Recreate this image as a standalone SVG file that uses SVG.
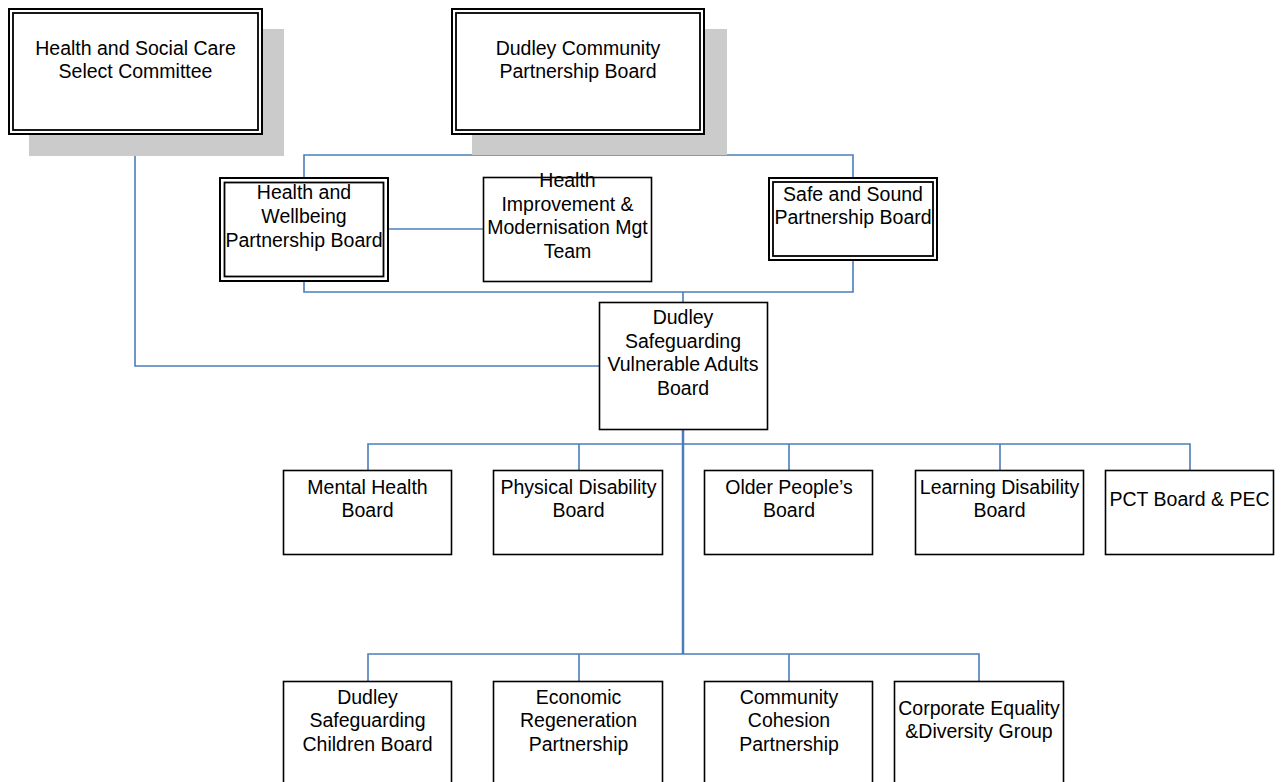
<svg xmlns="http://www.w3.org/2000/svg" width="1286" height="782" viewBox="0 0 1286 782">
<style>
.bg{fill:#ffffff}
.shadow{fill:#cbcbcb}
.box{fill:#ffffff;stroke:#000000;stroke-width:1.6}
.outer{fill:#ffffff;stroke:#000000;stroke-width:2}
.inner{fill:none;stroke:#000000;stroke-width:1.8}
.conn{fill:none;stroke:#4a7ebb;stroke-width:1.6}
.trunk{fill:none;stroke:#4a7ebb;stroke-width:2.5}
text{font-family:"Liberation Sans",Arial,sans-serif;font-size:19.5px;fill:#000000;text-anchor:middle}
</style>
<rect class="bg" x="0" y="0" width="1286" height="782"/>

<g id="connectors">
  <path class="conn" d="M135 156 V366 H599"/>
  <path class="conn" d="M578 134 V155"/>
  <path class="conn" d="M304 178 V155 H853 V178"/>
  <path class="conn" d="M388 229 H483"/>
  <path class="conn" d="M304 281 V292 H853 V260"/>
  <path class="conn" d="M683 292 V302"/>
  <path class="trunk" d="M683 430 V654"/>
  <path class="conn" d="M368 470 V444 H1190 V470"/>
  <path class="conn" d="M579 444 V470 M789 444 V470 M1000 444 V470"/>
  <path class="conn" d="M368 681 V654 H979 V681"/>
  <path class="conn" d="M579 654 V681 M789 654 V681"/>
</g>

<g id="n-hsc">
  <rect class="shadow" x="29" y="29" width="255" height="127"/>
  <rect class="outer" x="9" y="9" width="253" height="125"/>
  <rect class="inner" x="13" y="13" width="245" height="117"/>
  <text x="135.5" y="55">Health and Social Care</text>
  <text x="135.5" y="77.5">Select Committee</text>
</g>

<g id="n-dcp">
  <rect class="shadow" x="472" y="29" width="255" height="126"/>
  <rect class="outer" x="452" y="9" width="252" height="125"/>
  <rect class="inner" x="456" y="13" width="244" height="117"/>
  <text x="578" y="55">Dudley Community</text>
  <text x="578" y="77.5">Partnership Board</text>
</g>

<g id="n-hwb">
  <rect class="outer" x="220" y="178" width="168" height="103"/>
  <rect class="inner" x="224.5" y="182.5" width="159" height="94"/>
  <text x="304" y="199">Health and</text>
  <text x="304" y="222.5">Wellbeing</text>
  <text x="304" y="246.5">Partnership Board</text>
</g>

<g id="n-himm">
  <rect class="box" x="483.5" y="177.5" width="168" height="104"/>
  <text x="567.5" y="187.3">Health</text>
  <text x="567.5" y="211">Improvement &amp;</text>
  <text x="567.5" y="234.3">Modernisation Mgt</text>
  <text x="567.5" y="258.3">Team</text>
</g>

<g id="n-ss">
  <rect class="outer" x="769" y="178" width="168" height="82"/>
  <rect class="inner" x="773" y="182" width="160" height="74"/>
  <text x="853" y="200.7">Safe and Sound</text>
  <text x="853" y="224">Partnership Board</text>
</g>

<g id="n-dsvab">
  <rect class="box" x="599.5" y="302.5" width="168" height="127"/>
  <text x="683" y="324">Dudley</text>
  <text x="683" y="347.5">Safeguarding</text>
  <text x="683" y="371">Vulnerable Adults</text>
  <text x="683" y="394.5">Board</text>
</g>

<g id="n-mh">
  <rect class="box" x="283.5" y="470.5" width="168" height="84"/>
  <text x="367.5" y="494">Mental Health</text>
  <text x="367.5" y="517">Board</text>
</g>
<g id="n-pd">
  <rect class="box" x="493.5" y="470.5" width="169" height="84"/>
  <text x="578.5" y="494">Physical Disability</text>
  <text x="578.5" y="517">Board</text>
</g>
<g id="n-op">
  <rect class="box" x="704.5" y="470.5" width="168" height="84"/>
  <text x="789" y="494">Older People’s</text>
  <text x="789" y="517">Board</text>
</g>
<g id="n-ld">
  <rect class="box" x="915.5" y="470.5" width="168" height="84"/>
  <text x="999.5" y="494">Learning Disability</text>
  <text x="999.5" y="517">Board</text>
</g>
<g id="n-pct">
  <rect class="box" x="1105.5" y="470.5" width="168" height="84"/>
  <text x="1189.5" y="506">PCT Board &amp; PEC</text>
</g>

<g id="n-dscb">
  <rect class="box" x="283.5" y="681.5" width="168" height="110"/>
  <text x="367.5" y="703.5">Dudley</text>
  <text x="367.5" y="727">Safeguarding</text>
  <text x="367.5" y="750.5">Children Board</text>
</g>
<g id="n-erp">
  <rect class="box" x="493.5" y="681.5" width="169" height="110"/>
  <text x="578.5" y="703.5">Economic</text>
  <text x="578.5" y="727">Regeneration</text>
  <text x="578.5" y="750.5">Partnership</text>
</g>
<g id="n-ccp">
  <rect class="box" x="704.5" y="681.5" width="168" height="110"/>
  <text x="789" y="703.5">Community</text>
  <text x="789" y="727">Cohesion</text>
  <text x="789" y="750.5">Partnership</text>
</g>
<g id="n-cedg">
  <rect class="box" x="894.5" y="681.5" width="169" height="110"/>
  <text x="979" y="715">Corporate Equality</text>
  <text x="979" y="738">&amp;Diversity Group</text>
</g>
</svg>
